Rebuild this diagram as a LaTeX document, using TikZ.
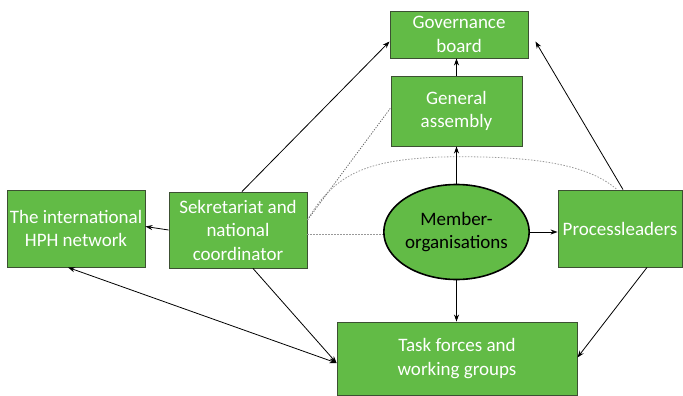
\documentclass[tikz,border=0pt]{standalone}
\usepackage{fontspec}
\setmainfont{Carlito}
\usetikzlibrary{arrows.meta,shapes.geometric}
\definecolor{boxgreen}{RGB}{98,187,70}
\definecolor{boxedge}{RGB}{60,80,50}
\tikzset{
  gbox/.style={draw=boxedge, line width=0.9pt, fill=boxgreen, text=white, align=center,
    inner sep=0pt, font=\fontsize{19}{23.5}\selectfont},
  member/.style={ellipse, draw=black, line width=1.6pt, fill=boxgreen, text=black, align=center,
    inner sep=0pt, font=\fontsize{19}{23.5}\selectfont},
  conn/.style={draw=black, line width=0.8pt, -{Stealth[length=7pt,width=5pt]}},
  dconn/.style={draw=black, line width=0.8pt, {Stealth[length=7pt,width=5pt]}-{Stealth[length=7pt,width=5pt]}},
  dotdark/.style={draw=black!60, line width=0.8pt, dash pattern=on 1.2pt off 1.4pt},
  dotlight/.style={draw=black!40, line width=0.8pt, dash pattern=on 1.5pt off 1.5pt}
}
\begin{document}
\begin{tikzpicture}[x=1pt,y=-1pt]
\useasboundingbox (0,0) rectangle (683,396);
\node[gbox, minimum width=138pt, minimum height=47pt] (gov) at (459,34.5) {Governance\\board};
\node[gbox, minimum width=131pt, minimum height=70pt] (ga) at (456.5,111) {General\\assembly};
\node[gbox, minimum width=138pt, minimum height=76pt] (sek) at (238,230) {Sekretariat and\\national\\coordinator};
\node[gbox, minimum width=138pt, minimum height=77pt] (hph) at (76,228.5) {The international\\HPH network};
\node[member, minimum width=133pt, minimum height=95pt] (mem) at (456.5,232) {Member-\\organisations};
\node[gbox, minimum width=124pt, minimum height=77pt] (proc) at (620,228.5) {Processleaders};
\node[gbox, minimum width=240pt, minimum height=73pt] (task) at (457,358.5) {Task forces and\\working groups};

% dotted connections
\draw[dotlight] ([yshift=-4pt]sek.east) -- ([yshift=-4pt]sek.east -| mem.west);
\draw[dotdark] ([yshift=10pt]sek.east) -- ([yshift=3pt]ga.west);
\draw[dotlight] ([yshift=10pt]sek.east) .. controls (335,172) and (370,160) .. (440,157)
  .. controls (540,155) and (590,166) .. ([xshift=-3pt]proc.north);

% solid arrows
\draw[conn] ([xshift=4pt]sek.north) -- ([yshift=-7pt]gov.west);
\draw[conn] (sek.west) -- ([yshift=2pt]hph.east);
\draw[conn] (ga.north) -- (ga.north |- gov.south);
\draw[conn] (mem.north) -- (mem.north |- ga.south);
\draw[conn] (mem.east) -- (mem.east -| proc.west);
\draw[conn] (mem.south) -- (mem.south |- task.north);
\draw[conn] ([xshift=3pt]proc.north) -- ([xshift=7pt,yshift=-7pt]gov.east);
\draw[conn] ([xshift=27pt]proc.south) -- ([yshift=1pt]task.east);
\draw[conn] ([xshift=15pt]sek.south) -- ([yshift=-4.5pt]task.west);
\draw[dconn] ([xshift=-8pt]hph.south) -- ([yshift=-4.5pt]task.west);
\end{tikzpicture}
\end{document}
